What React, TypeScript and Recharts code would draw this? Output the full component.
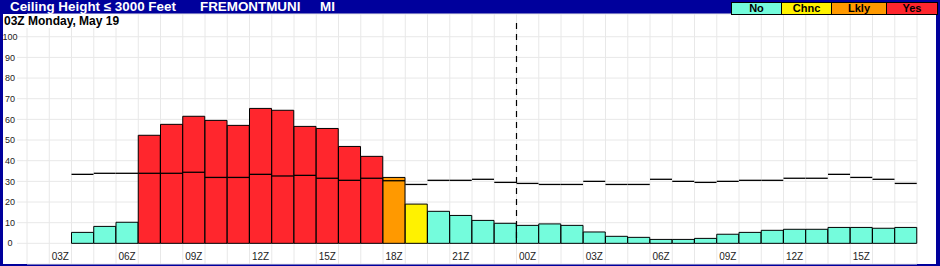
import {
  ComposedChart,
  Bar,
  Cell,
  XAxis,
  YAxis,
  CartesianGrid,
  ReferenceLine,
} from 'recharts';

// one slot per hour, 02Z Monday through 17Z Tuesday
const slotLabels = [
  '', '03Z', '', '', '06Z', '', '', '09Z', '', '', '12Z', '', '', '15Z', '', '', '18Z', '', '', '21Z',
  '', '', '00Z', '', '', '03Z', '', '', '06Z', '', '', '09Z', '', '', '12Z', '', '', '15Z', '', '',
];

// probability (%) of ceiling <= 3000 ft
const probability = [
  null, null, 5.3, 8.2, 10.2, 52.3, 57.6, 61.5, 59.5, 57.1, 65.3, 64.4, 56.6, 55.6, 46.9, 42.1, 31.9, 19.0, 15.5, 13.5,
  11.1, 9.7, 8.7, 9.4, 8.7, 5.5, 3.4, 2.9, 1.9, 1.9, 2.4, 4.4, 5.3, 6.3, 6.8, 6.8, 7.7, 7.7, 7.3, 7.7,
];

// categorical forecast per hour
const category = [
  '', '', 'No', 'No', 'No', 'Yes', 'Yes', 'Yes', 'Yes', 'Yes', 'Yes', 'Yes', 'Yes', 'Yes', 'Yes', 'Yes', 'Lkly', 'Chnc', 'No', 'No',
  'No', 'No', 'No', 'No', 'No', 'No', 'No', 'No', 'No', 'No', 'No', 'No', 'No', 'No', 'No', 'No', 'No', 'No', 'No', 'No',
];

// threshold line drawn per hour
const threshold = [
  null, null, 33.4, 33.9, 33.9, 33.9, 33.9, 34.4, 31.9, 31.9, 33.4, 32.6, 32.9, 31.5, 30.5, 31.5, 30.3, 28.5, 30.5, 30.5,
  31.0, 29.5, 29.0, 28.5, 28.5, 30.0, 28.5, 28.5, 31.0, 30.0, 29.5, 30.0, 30.5, 30.5, 31.5, 31.5, 33.4, 31.9, 31.0, 29.0,
];

const yTicks = [0, 10, 20, 30, 40, 50, 60, 70, 80, 90, 100];
const yDomain = [-10, 111];
const dayBreakSlot = 22;

const legendItems = [
  { key: 'No', color: '#74fcdc', width: 50 },
  { key: 'Chnc', color: '#fff200', width: 50 },
  { key: 'Lkly', color: '#ff9900', width: 55 },
  { key: 'Yes', color: '#ff262d', width: 51 },
];
const colorOf: Record<string, string> = Object.fromEntries(legendItems.map((l) => [l.key, l.color]));

const data = slotLabels.map((label, idx) => ({
  idx,
  label,
  pct: probability[idx],
  cat: category[idx],
  thr: threshold[idx],
}));

const FONT = '"Liberation Sans", Arial, Helvetica, sans-serif';
const FRAME = '#00009c';

const LeftTick = (props: any) => (
  <text x={props.x - 5} y={props.y} dy="0.35em" textAnchor="middle" fontSize={9} fill="#222" fontFamily={FONT}>
    {props.payload.value}
  </text>
);

const RightTick = (props: any) => (
  <text x={props.x + 2} y={props.y} dy="0.35em" textAnchor="middle" fontSize={9} fill="#222" fontFamily={FONT}>
    {props.payload.value}
  </text>
);

const HourTick = (props: any) => (
  <text x={props.x} y={props.y - 4} textAnchor="middle" fontSize={10} fill="#222" fontFamily={FONT}>
    {slotLabels[props.payload.value]}
  </text>
);

const ThresholdMark = (props: any) => {
  const { x, y, width } = props;
  if (y == null || !width) return null;
  return <line x1={x} x2={x + width} y1={y} y2={y} stroke="#000" strokeWidth={1.3} />;
};

export default function App() {
  return (
    <div
      style={{
        position: 'absolute',
        left: 0,
        top: 0,
        width: 940,
        height: 266,
        background: FRAME,
        fontFamily: FONT,
        overflow: 'hidden',
      }}
    >
      <div style={{ position: 'absolute', left: 3, top: 14, width: 933, height: 250, background: '#fff' }} />

      <div style={{ position: 'absolute', left: 0, top: 0 }}>
        <ComposedChart
          width={940}
          height={266}
          data={data}
          margin={{ top: 14, right: 0, bottom: 1, left: 0 }}
          barCategoryGap={0}
          barGap={0}
        >
          <XAxis xAxisId="grid" dataKey="idx" type="number" domain={[0, 40]} ticks={Array.from({ length: 41 }, (_, i) => i)} hide />
          <XAxis xAxisId="thr" dataKey="idx" hide />
          <XAxis
            dataKey="idx"
            height={1}
            tickLine={false}
            axisLine={false}
            tickSize={0}
            tickMargin={0}
            interval={0}
            tick={<HourTick />}
          />
          <YAxis
            yAxisId="left"
            width={27}
            domain={yDomain}
            ticks={yTicks}
            interval={0}
            axisLine={false}
            tickSize={10}
            tickLine={{ stroke: '#e8e8e8' }}
            tick={<LeftTick />}
          />
          <YAxis
            yAxisId="right"
            orientation="right"
            width={23}
            domain={yDomain}
            ticks={yTicks}
            interval={0}
            axisLine={false}
            tickLine={false}
            tick={<RightTick />}
          />
          <CartesianGrid xAxisId="grid" yAxisId="left" stroke="#e8e8e8" strokeWidth={1} />
          <Bar dataKey="pct" yAxisId="left" stroke="#000" strokeWidth={1} isAnimationActive={false}>
            {data.map((d) => (
              <Cell key={d.idx} fill={colorOf[d.cat] || 'transparent'} />
            ))}
          </Bar>
          <Bar dataKey="thr" xAxisId="thr" yAxisId="left" shape={<ThresholdMark />} isAnimationActive={false} />
          <ReferenceLine
            xAxisId="grid"
            yAxisId="left"
            segment={[
              { x: dayBreakSlot, y: 106.6 },
              { x: dayBreakSlot, y: 0 },
            ]}
            stroke="#000"
            strokeWidth={1.2}
            strokeDasharray="6 5"
          />
        </ComposedChart>
      </div>

      <div
        style={{
          position: 'absolute',
          left: 4,
          top: 14,
          fontSize: 12,
          fontWeight: 'bold',
          lineHeight: '14px',
          background: '#fff',
          color: '#000',
          whiteSpace: 'nowrap',
        }}
      >
        03Z Monday, May 19
      </div>

      <div style={{ position: 'absolute', left: 10, top: -1, color: '#fff', fontSize: 13.4, fontWeight: 'bold', whiteSpace: 'nowrap' }}>
        Ceiling Height ≤ 3000 Feet
      </div>
      <div style={{ position: 'absolute', left: 200, top: -1, color: '#fff', fontSize: 13.4, fontWeight: 'bold', whiteSpace: 'nowrap' }}>
        FREMONTMUNI
      </div>
      <div style={{ position: 'absolute', left: 320, top: -1, color: '#fff', fontSize: 13.4, fontWeight: 'bold', whiteSpace: 'nowrap' }}>
        MI
      </div>

      <div style={{ position: 'absolute', left: 731, top: 2, display: 'flex', border: '1px solid #000', borderRight: 'none' }}>
        {legendItems.map((l) => (
          <div
            key={l.key}
            style={{
              width: l.width - 1,
              height: 11,
              background: l.color,
              borderRight: '1px solid #000',
              fontSize: 11,
              fontWeight: 'bold',
              lineHeight: '11px',
              textAlign: 'center',
              color: '#000',
            }}
          >
            {l.key}
          </div>
        ))}
      </div>
    </div>
  );
}
